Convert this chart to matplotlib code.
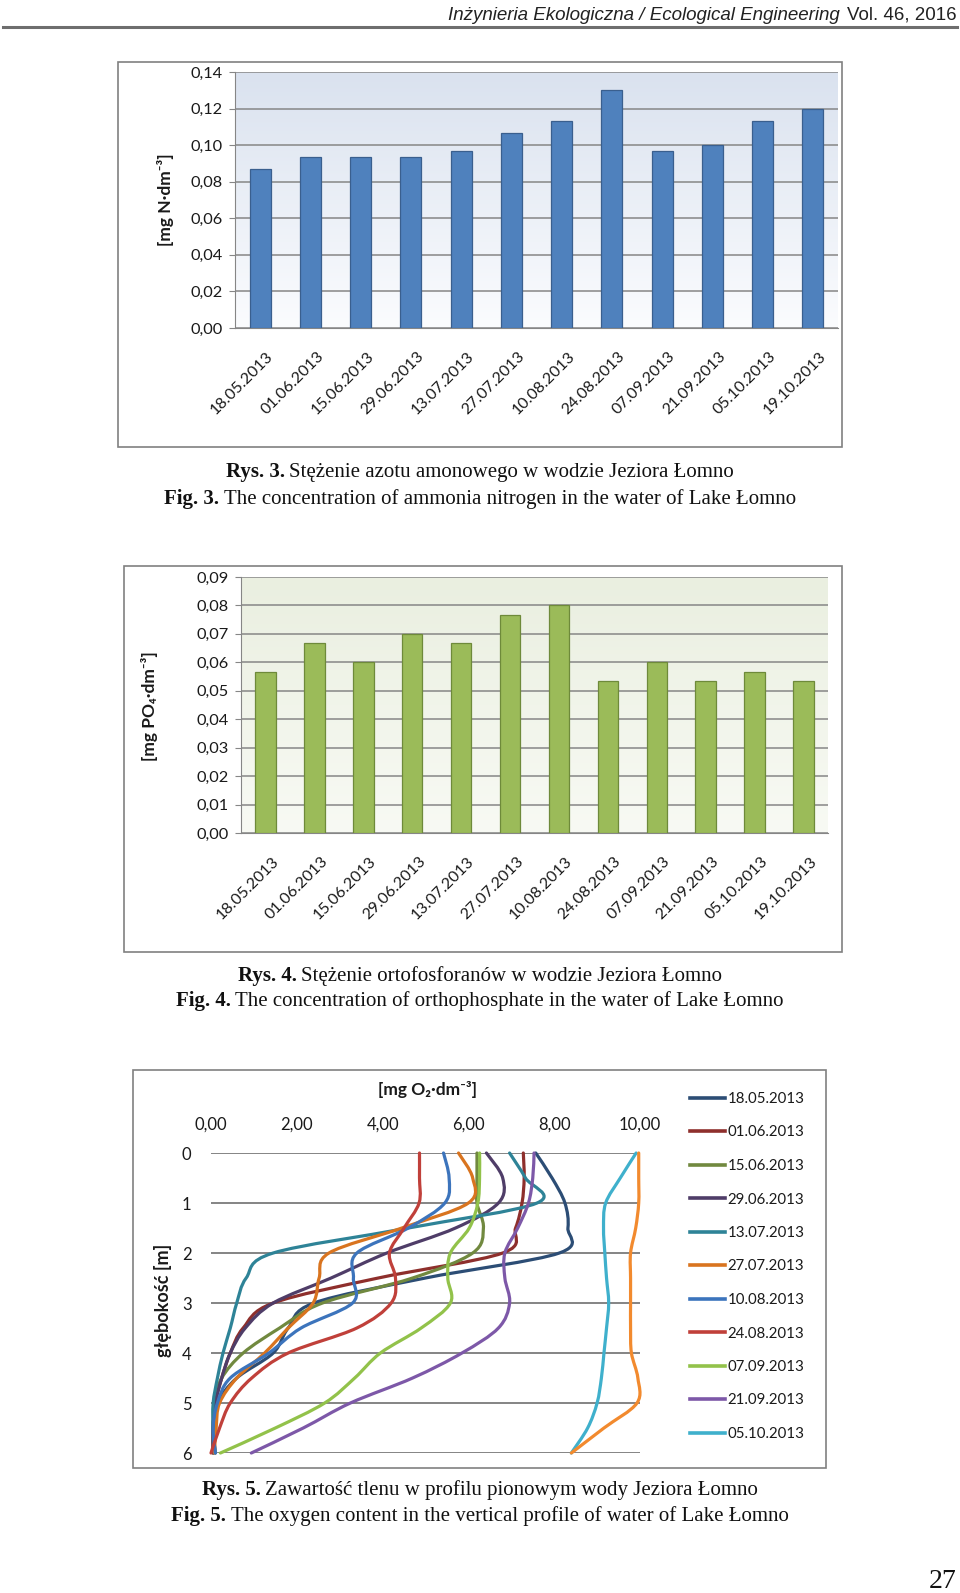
import numpy as np
import matplotlib.pyplot as plt
from matplotlib.path import Path
from matplotlib.patches import PathPatch, Rectangle
from matplotlib.lines import Line2D
from matplotlib.colors import LinearSegmentedColormap
from matplotlib.transforms import ScaledTranslation

W, H = 960, 1593

dates = ["18.05.2013", "01.06.2013", "15.06.2013", "29.06.2013", "13.07.2013", "27.07.2013",
         "10.08.2013", "24.08.2013", "07.09.2013", "21.09.2013", "05.10.2013", "19.10.2013"]

# Fig. 3 - ammonia nitrogen
nh4_values = [0.0867, 0.0933, 0.0933, 0.0933, 0.0967, 0.1067, 0.1133, 0.1300, 0.0967, 0.1000, 0.1133, 0.1200]
nh4_ticks = [0.00, 0.02, 0.04, 0.06, 0.08, 0.10, 0.12, 0.14]
nh4_ticklabels = ["0,00", "0,02", "0,04", "0,06", "0,08", "0,10", "0,12", "0,14"]

# Fig. 4 - orthophosphate
po4_values = [0.0567, 0.0667, 0.0600, 0.0700, 0.0667, 0.0767, 0.0800, 0.0533, 0.0600, 0.0533, 0.0567, 0.0533]
po4_ticks = [0.00, 0.01, 0.02, 0.03, 0.04, 0.05, 0.06, 0.07, 0.08, 0.09]
po4_ticklabels = ["0,00", "0,01", "0,02", "0,03", "0,04", "0,05", "0,06", "0,07", "0,08", "0,09"]

# Fig. 5 - oxygen profiles
o2_ticks = [0, 2, 4, 6, 8, 10]
o2_ticklabels = ["0,00", "2,00", "4,00", "6,00", "8,00", "10,00"]
depth_ticks = [0, 1, 2, 3, 4, 5, 6]
depth_m = [0, 0.5, 1, 1.5, 2, 2.5, 3, 3.5, 4, 4.5, 5, 5.5, 6]
o2_1805 = [7.57, 7.95, 8.25, 8.32, 8.12, 5.00, 2.40, 1.80, 1.45, 0.60, 0.15, 0.05, 0.10]
o2_0106 = [7.28, 7.30, 7.25, 7.10, 6.80, 3.90, 1.45, 0.75, 0.45, 0.25, 0.10, 0.05, 0.05]
o2_1506 = [6.20, 6.20, 6.20, 6.35, 6.10, 4.70, 2.60, 1.60, 0.75, 0.25, 0.08, 0.05, 0.05]
o2_2906 = [6.42, 6.80, 6.70, 5.70, 4.10, 2.80, 1.45, 0.80, 0.45, 0.25, 0.10, 0.05, 0.05]
o2_1307 = [6.96, 7.33, 7.60, 4.60, 1.45, 0.82, 0.60, 0.45, 0.28, 0.15, 0.05, 0.05, 0.10]
o2_2707 = [5.77, 6.10, 6.00, 4.45, 2.75, 2.52, 2.38, 1.80, 1.25, 0.60, 0.20, 0.12, 0.08]
o2_1008 = [5.42, 5.55, 5.45, 4.60, 3.40, 3.32, 3.30, 2.10, 1.35, 0.45, 0.15, 0.05, 0.10]
o2_2408 = [4.86, 4.86, 4.85, 4.50, 4.16, 4.30, 4.20, 3.40, 1.80, 0.95, 0.45, 0.20, 0.00]
o2_0709 = [6.26, 6.26, 6.22, 6.02, 5.58, 5.52, 5.58, 4.90, 3.95, 3.35, 2.65, 1.50, 0.22]
o2_2109 = [7.53, 7.50, 7.40, 7.15, 6.85, 6.85, 6.96, 6.70, 5.85, 4.70, 3.25, 2.15, 0.94]
o2_0510 = [9.91, 9.54, 9.20, 9.15, 9.18, 9.22, 9.27, 9.22, 9.16, 9.10, 9.00, 8.78, 8.40]
o2_1910 = [9.97, 9.97, 9.97, 9.90, 9.78, 9.78, 9.78, 9.78, 9.80, 9.95, 9.93, 9.16, 8.40]
profiles = [o2_1805, o2_0106, o2_1506, o2_2906, o2_1307, o2_2707,
            o2_1008, o2_2408, o2_0709, o2_2109, o2_0510, o2_1910]
profile_colors = ["#2C4D75", "#8E2F2C", "#71893F", "#4F3D68", "#2E8397", "#D9741F",
                  "#3C74BC", "#C0403A", "#92C24A", "#7D58A8", "#3FB0CC", "#F28A2E"]
n_legend = 11  # the legend of the original stops at 05.10.2013

SANS = ["Lato", "DejaVu Sans"]
SERIF = ["Liberation Serif", "DejaVu Serif"]
HEAD = ["Liberation Sans", "DejaVu Sans"]
TXT = "#1a1a1a"
GRID = "#868686"


def fx(x):
    return x / W


def fy(y):
    return 1 - y / H


def rect(x0, y0, x1, y1):
    return [x0 / W, 1 - y1 / H, (x1 - x0) / W, (y1 - y0) / H]


def frame(x0, y0, x1, y1):
    fig.add_artist(Rectangle((fx(x0), fy(y1)), (x1 - x0) / W, (y1 - y0) / H,
                             transform=fig.transFigure, fill=False, ec="#808080", lw=1.2))


def gradient(ax, top, bottom):
    cmap = LinearSegmentedColormap.from_list("bg", [top, bottom])
    ax.imshow(np.linspace(0, 1, 256).reshape(-1, 1), cmap=cmap, extent=[0, 1, 0, 1],
              transform=ax.transAxes, aspect="auto", zorder=0)


def bar_chart(ax, values, ticks, ticklabels, color, edge, bg_top, bg_bottom):
    gradient(ax, bg_top, bg_bottom)
    x = np.arange(len(values))
    ax.bar(x, values, width=0.42, color=color, edgecolor=edge, lw=0.9, zorder=3)
    ax.set_xlim(-0.5, len(values) - 0.5)
    ax.set_ylim(ticks[0], ticks[-1])
    ax.set_yticks(ticks)
    ax.set_yticklabels(ticklabels)
    ax.yaxis.grid(True, color=GRID, lw=1.1)
    ax.set_axisbelow(True)
    for s in ["top", "right"]:
        ax.spines[s].set_visible(False)
    for s in ["left", "bottom"]:
        ax.spines[s].set_color(GRID)
    ax.tick_params(axis="y", length=4, color=GRID, pad=5, labelsize=11.8, labelcolor=TXT)
    ax.tick_params(axis="x", length=0, pad=15, labelsize=11.5, labelcolor=TXT)
    ax.set_xticks(x)
    ax.set_xticklabels(dates, rotation=45, ha="right", va="top", rotation_mode="anchor")
    for lab in ax.get_xticklabels() + ax.get_yticklabels():
        lab.set_family(SANS)
    off = ScaledTranslation(6 / 100, 0, fig.dpi_scale_trans)
    for lab in ax.get_xticklabels():
        lab.set_transform(lab.get_transform() + off)


def smooth_path(xs, ys):
    pts = np.column_stack([xs, ys])
    n = len(pts)
    verts = [pts[0]]
    codes = [Path.MOVETO]
    for i in range(n - 1):
        p0 = pts[max(i - 1, 0)]
        p1 = pts[i]
        p2 = pts[i + 1]
        p3 = pts[min(i + 2, n - 1)]
        verts += [p1 + (p2 - p0) / 6, p2 - (p3 - p1) / 6, p2]
        codes += [Path.CURVE4] * 3
    return Path(verts, codes)


def caption(y, head, body, size=15):
    t1 = fig.text(0, fy(y), head, weight="bold", fontsize=size, family=SERIF, va="center", color="#111111")
    t2 = fig.text(0, fy(y), body, fontsize=size, family=SERIF, va="center", color="#111111")
    r = fig.canvas.get_renderer()
    w1 = t1.get_window_extent(r).width
    w2 = t2.get_window_extent(r).width
    gap = size * 0.3
    x0 = 480 - (w1 + gap + w2) / 2
    t1.set_x(fx(x0))
    t2.set_x(fx(x0 + w1 + gap))


fig = plt.figure(figsize=(W / 100, H / 100), dpi=100)

# header
fig.text(fx(957), fy(19.5), "Vol. 46, 2016", ha="right", va="baseline", fontsize=13.5,
         family=HEAD, color="#222222")
fig.text(fx(840), fy(19.5), "Inżynieria Ekologiczna / Ecological Engineering", ha="right",
         va="baseline", fontsize=13.5, style="italic", family=HEAD, color="#222222")
fig.add_artist(Line2D([fx(3), fx(957)], [fy(27), fy(27)], transform=fig.transFigure,
                      color="#6e6e6e", lw=2.2))

# Fig. 3
frame(118, 62, 842, 447)
ax1 = fig.add_axes(rect(235, 72, 838, 328))
bar_chart(ax1, nh4_values, nh4_ticks, nh4_ticklabels, "#4F81BD", "#3A5F8E", "#DAE2EF", "#FBFCFE")
fig.text(fx(166), fy(200), "[mg N·dm⁻³]", rotation=90, ha="center", va="center",
         weight="bold", fontsize=12.5, family=SANS, color=TXT)
caption(472, "Rys. 3.", "Stężenie azotu amonowego w wodzie Jeziora Łomno")
caption(499, "Fig. 3.", "The concentration of ammonia nitrogen in the water of Lake Łomno")

# Fig. 4
frame(124, 566, 842, 952)
ax2 = fig.add_axes(rect(241, 577, 828, 833))
bar_chart(ax2, po4_values, po4_ticks, po4_ticklabels, "#9BBB59", "#6E8A3A", "#EAEFE0", "#F8FAF4")
fig.text(fx(150), fy(706), "[mg PO₄·dm⁻³]", rotation=90, ha="center", va="center",
         weight="bold", fontsize=12.5, family=SANS, color=TXT)
caption(976, "Rys. 4.", "Stężenie ortofosforanów w wodzie Jeziora Łomno")
caption(1001, "Fig. 4.", "The concentration of orthophosphate in the water of Lake Łomno")

# Fig. 5
frame(133, 1070, 826, 1468)
ax3 = fig.add_axes(rect(211, 1153, 640, 1453))
ax3.set_xlim(0, 10)
ax3.set_ylim(6, 0)
ax3.set_xticks(o2_ticks)
ax3.set_xticklabels(o2_ticklabels)
ax3.set_yticks(depth_ticks)
ax3.set_yticklabels([str(d) for d in depth_ticks])
ax3.xaxis.tick_top()
ax3.tick_params(axis="x", length=0, pad=15, labelsize=12, labelcolor=TXT)
ax3.tick_params(axis="y", length=0, pad=14, labelsize=12, labelcolor=TXT)
for lab in ax3.get_xticklabels() + ax3.get_yticklabels():
    lab.set_family(SANS)
for s in ax3.spines.values():
    s.set_visible(False)
ax3.yaxis.grid(True, color="#6f6f6f", lw=1.2)
ax3.set_axisbelow(True)
for vals, c in zip(profiles, profile_colors):
    ax3.add_patch(PathPatch(smooth_path(vals, depth_m), fill=False, edgecolor=c, lw=2.3,
                            capstyle="round", joinstyle="round", clip_on=False, zorder=3))
fig.text(fx(427), fy(1090), "[mg O₂·dm⁻³]", ha="center", va="center", weight="bold",
         fontsize=12.5, family=SANS, color=TXT)
fig.text(fx(163), fy(1300), "głębokość [m]", rotation=90, ha="center", va="center",
         weight="bold", fontsize=13, family=SANS, color=TXT)
handles = [Line2D([], [], color=c, lw=2.6) for c in profile_colors[:n_legend]]
fig.legend(handles, dates[:n_legend], loc="upper left", bbox_to_anchor=(fx(690), fy(1092)),
           bbox_transform=fig.transFigure, frameon=False, prop=dict(family=SANS, size=10.8),
           handlelength=2.3, handletextpad=0.2, labelspacing=1.3, borderpad=0,
           borderaxespad=0, labelcolor=TXT)
caption(1490, "Rys. 5.", "Zawartość tlenu w profilu pionowym wody Jeziora Łomno")
caption(1516, "Fig. 5.", "The oxygen content in the vertical profile of water of Lake Łomno")

fig.text(fx(957), fy(1582), "27", ha="right", va="center", fontsize=20, family=SERIF, color="#111111")

fig.savefig("out.png", dpi=100)
